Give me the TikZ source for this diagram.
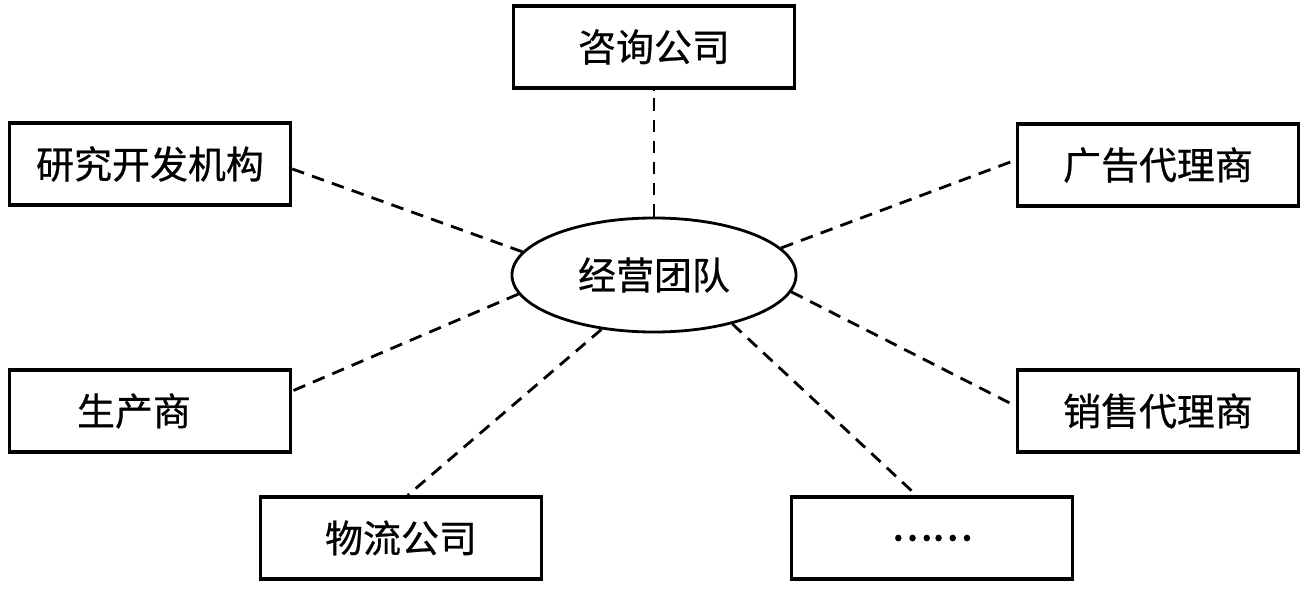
\documentclass[tikz,border=0pt]{standalone}
\usepackage{fontspec}
\setmainfont{Noto Sans CJK SC}
\newfontfamily\hanzi[FakeBold=0.6]{Noto Sans CJK SC}
\newfontfamily\hanzidian[FakeBold=3.5]{Noto Sans CJK SC}
\usetikzlibrary{shapes.geometric}
\tikzset{
    hop/.style={draw, line width=2.4pt, minimum width=7.03cm, minimum height=2.05cm,
        inner sep=0pt, font=\hanzi\fontsize{27}{32}\selectfont},
    doan/.style={draw, ellipse, line width=2pt, minimum width=7.1cm, minimum height=2.85cm,
        inner sep=0pt, font=\hanzi\fontsize{27}{32}\selectfont},
    noi/.style={line width=2pt, dash pattern=on 9pt off 6pt},
}
\begin{document}
\begin{tikzpicture}[x=0.025cm, y=-0.025cm]
    \useasboundingbox (0,0) rectangle (1304,590);
    % 1. 中心
    \node[doan] (doi) at (654,275) {经营团队};

    % 2. 外围机构
    \node[hop] (zixun) at (654,47) {咨询公司};
    \node[hop] (yanfa) at (150,164) {研究开发机构};
    \node[hop] (guanggao) at (1158,165) {广告代理商};
    \node[hop] (shengchan) at (150,411) {\hspace*{-0.8cm}生产商};
    \node[hop] (xiaoshou) at (1158,411) {销售代理商};
    \node[hop] (wuliu) at (401,538) {物流公司};
    \node[hop] (qita) at (932,538) {\hanzidian\fontsize{27}{32}\selectfont ……};

    % 3. 虚线连接
    \draw[noi] (doi.90) -- (zixun.south);
    \draw[noi] (doi.170) -- (yanfa.-2.5);
    \draw[noi] (doi.12.7) -- (guanggao.178);
    \draw[noi] (doi.188.4) -- (shengchan.8.5);
    \draw[noi] (doi.-7) -- (xiaoshou.178.4);
    \draw[noi] (doi.226) -- (wuliu.81.7);
    \draw[noi] (doi.-32.7) -- (qita.110);
\end{tikzpicture}
\end{document}
